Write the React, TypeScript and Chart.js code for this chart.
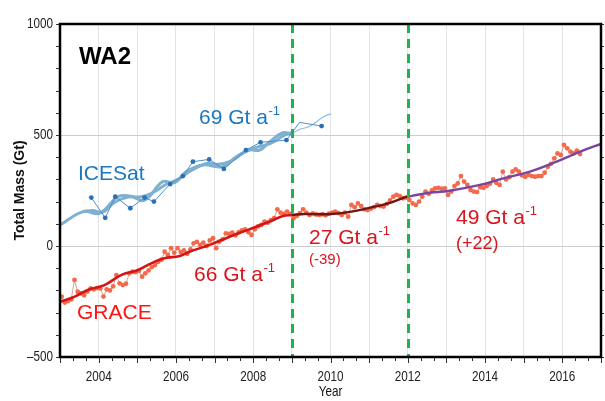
import React, { useEffect, useRef } from "react";
import { Chart, registerables } from "chart.js";

Chart.register(...registerables);

// GRACE monthly total mass (Gt), one array per year, Jan..Dec
const grace2003 = [-228, -255, -248, -240, -153, -206, -213, -222, -205, -191, -195, -190];
const grace2004 = [-191, -228, -195, -200, -182, -131, -168, -176, -170, -123, -116, -118];
const grace2005 = [-112, -138, -123, -110, -95, -86, -71, -62, -26, -40, -10, -30];
const grace2006 = [-10, -27, -20, -35, -15, 12, 19, 5, 15, 0, 25, 35];
const grace2007 = [-10, 20, 30, 57, 55, 60, 48, 62, 70, 75, 62, 50];
const grace2008 = [75, 88, 95, 110, 105, 117, 125, 165, 150, 145, 155, 145];
const grace2009 = [125, 135, 148, 165, 150, 140, 147, 142, 140, 143, 138, 146];
const grace2010 = [150, 155, 148, 140, 150, 132, 185, 175, 192, 180, 165, 162];
const grace2011 = [168, 175, 185, 180, 178, 190, 205, 222, 230, 225, 215, 218];
const grace2012 = [207, 192, 185, 200, 222, 245, 235, 250, 260, 262, 258, 260];
const grace2013 = [230, 245, 270, 282, 315, 290, 275, 252, 245, 243, 265, 262];
const grace2014 = [270, 280, 300, 285, 275, 335, 300, 310, 335, 345, 335, 318];
const grace2015 = [312, 320, 315, 312, 315, 315, 330, 357, 370, 395, 417, 410];
const grace2016 = [455, 440, 425, 417, 430, 414];
const graceYears = [grace2003, grace2004, grace2005, grace2006, grace2007, grace2008, grace2009,
  grace2010, grace2011, grace2012, grace2013, grace2014, grace2015, grace2016];
const graceFirstYear = 2003;

// GRACE smoothed trend, split into the three periods
const trendAYears = [2003.0, 2003.38, 2003.72, 2004.15, 2004.58, 2005.02, 2005.36, 2005.7, 2006.1, 2006.35, 2006.87, 2007.39, 2007.9, 2008.43, 2008.77, 2009.0];
const trendAMass = [-251, -228, -198, -176, -131, -108, -78, -55, -45, -26, 5, 42, 75, 110, 135, 140];
const trendBYears = [2009.0, 2009.33, 2009.7, 2010.02, 2010.54, 2011.06, 2011.49, 2011.92, 2012.0];
const trendBMass = [140, 144, 143, 144, 155, 174, 192, 219, 222];
const trendCYears = [2012.0, 2012.3, 2012.57, 2013.05, 2013.87, 2014.47, 2015.16, 2015.85, 2016.46, 2017.0];
const trendCMass = [222, 232, 240, 248, 275, 305, 335, 380, 425, 460];

// ICESat campaign estimates
const iceYears = [2003.81, 2004.17, 2004.43, 2004.82, 2005.19, 2005.43, 2005.85, 2006.18, 2006.44, 2006.86, 2007.24, 2007.81, 2008.19, 2008.86, 2009.2, 2009.77];
const iceMass = [218, 127, 222, 170, 218, 200, 279, 315, 380, 390, 347, 432, 467, 477, 557, 540];

// ICESat smoothed curves
const iceSmoothAYears = [2003.0, 2003.6, 2004.02, 2004.5, 2004.8, 2005.19, 2005.66, 2005.97, 2006.27, 2006.7, 2007.22, 2007.56, 2007.9, 2008.17, 2008.43, 2008.77, 2009.0];
const iceSmoothAMass = [95, 155, 147, 222, 225, 207, 290, 285, 335, 365, 357, 402, 432, 432, 470, 510, 505];
const iceSmoothBYears = [2003.6, 2003.85, 2004.1, 2004.4, 2004.75, 2005.1, 2005.4, 2005.75, 2006.05, 2006.4, 2006.8, 2007.1, 2007.45, 2007.8, 2008.1, 2008.45, 2008.8, 2009.0];
const iceSmoothBMass = [155, 160, 152, 195, 220, 222, 240, 278, 300, 340, 372, 368, 385, 425, 445, 462, 498, 512];
const iceTailYears = [2009.0, 2009.2, 2009.43, 2009.64, 2009.85, 2010.02];
const iceTailMass = [507, 525, 537, 560, 585, 595];

// Period boundaries
const breakYears = [2009, 2012];

const xMin = 2003;
const xMax = 2017;
const yMin = -500;
const yMax = 1000;
const yStep = 500;

const sans = "'Liberation Sans', Arial, sans-serif";

const pts = (xs: number[], ys: number[]) => xs.map((x, i) => ({ x, y: ys[i] }));

function graceSeries() {
  const out: { x: number; y: number }[] = [];
  graceYears.forEach((arr, yi) => {
    arr.forEach((v, m) => out.push({ x: graceFirstYear + yi + (m + 0.5) / 12, y: v }));
  });
  return out;
}

// condensed text: horizontally squeezed sans
function narrowText(ctx: CanvasRenderingContext2D, text: string, x: number, y: number, align: "left" | "center" | "right", size: number, squeeze = 0.78) {
  ctx.save();
  ctx.font = `${size}px ${sans}`;
  ctx.textBaseline = "middle";
  ctx.textAlign = align;
  ctx.translate(x, y);
  ctx.scale(squeeze, 1);
  ctx.fillText(text, 0, 0);
  ctx.restore();
}

function drawRate(ctx: CanvasRenderingContext2D, x: number, y: number, text: string, color: string, size: number) {
  ctx.save();
  ctx.fillStyle = color;
  ctx.textBaseline = "alphabetic";
  ctx.textAlign = "left";
  ctx.font = `${size}px ${sans}`;
  ctx.fillText(text, x, y);
  const w = ctx.measureText(text).width;
  ctx.font = `${Math.round(size * 0.6)}px ${sans}`;
  ctx.fillText("-1", x + w + 0.5, y - size * 0.42);
  ctx.restore();
}

const overlay = {
  id: "overlay",
  afterDatasetsDraw(chart: any) {
    const { ctx, chartArea, scales } = chart;
    const xs = scales.x;
    const ys = scales.y;
    const { left, right, top, bottom } = chartArea;

    // period boundaries
    ctx.save();
    ctx.strokeStyle = "#1fb24e";
    ctx.lineWidth = 3;
    ctx.setLineDash([9, 6]);
    breakYears.forEach((yr) => {
      const px = Math.round(xs.getPixelForValue(yr)) + 0.5;
      ctx.beginPath();
      ctx.moveTo(px, top);
      ctx.lineTo(px, bottom);
      ctx.stroke();
    });
    ctx.restore();

    // minor ticks
    ctx.save();
    ctx.strokeStyle = "#333";
    ctx.lineWidth = 1;
    for (let v = yMin; v <= yMax; v += 100) {
      const py = Math.round(ys.getPixelForValue(v)) + 0.5;
      ctx.beginPath();
      ctx.moveTo(left - 4, py);
      ctx.lineTo(left, py);
      ctx.moveTo(right, py);
      ctx.lineTo(right + 3, py);
      ctx.stroke();
    }
    for (let k = 0; k <= (xMax - xMin) * 3; k++) {
      const px = Math.round(xs.getPixelForValue(xMin + k / 3)) + 0.5;
      const len = k % 3 === 0 ? 6 : 4;
      ctx.beginPath();
      ctx.moveTo(px, bottom);
      ctx.lineTo(px, bottom + len);
      ctx.stroke();
    }
    ctx.restore();

    // frame
    ctx.save();
    ctx.strokeStyle = "#000";
    ctx.lineWidth = 2.5;
    ctx.strokeRect(left, top, right - left, bottom - top);
    ctx.restore();

    // tick labels
    ctx.save();
    ctx.fillStyle = "#222";
    xs.ticks.forEach((t: any) => {
      const v = t.value;
      if (v % 2 === 0 && v > xMin && v < xMax) {
        narrowText(ctx, String(v), xs.getPixelForValue(v), 377, "center", 15);
      }
    });
    for (let v = yMin; v <= yMax; v += yStep) {
      const label = v < 0 ? "\u2013" + Math.abs(v) : String(v);
      narrowText(ctx, label, left - 7, ys.getPixelForValue(v), "right", 15);
    }
    ctx.restore();

    // labels
    ctx.save();
    ctx.fillStyle = "#000";
    ctx.font = `bold 24px ${sans}`;
    ctx.textBaseline = "alphabetic";
    ctx.fillText("WA2", 79, 64);

    ctx.fillStyle = "#1a78c2";
    ctx.font = `21px ${sans}`;
    ctx.fillText("ICESat", 78, 180);
    ctx.fillStyle = "#ff1414";
    ctx.fillText("GRACE", 77, 319);
    ctx.restore();

    drawRate(ctx, 199, 124, "69 Gt a", "#1a78c2", 21);
    drawRate(ctx, 194, 281, "66 Gt a", "#d9141c", 21);
    drawRate(ctx, 309, 244, "27 Gt a", "#d9141c", 21);
    drawRate(ctx, 456, 224, "49 Gt a", "#d9141c", 21);

    ctx.save();
    ctx.fillStyle = "#d9141c";
    ctx.font = `15px ${sans}`;
    ctx.fillText("(-39)", 309, 264);
    ctx.font = `18px ${sans}`;
    ctx.fillText("(+22)", 456, 249);
    ctx.restore();

    // axis titles
    ctx.save();
    ctx.fillStyle = "#111";
    ctx.font = `bold 14px ${sans}`;
    ctx.textAlign = "center";
    ctx.textBaseline = "middle";
    ctx.translate(20, (top + bottom) / 2);
    ctx.rotate(-Math.PI / 2);
    ctx.fillText("Total Mass (Gt)", 0, 0);
    ctx.restore();

    ctx.save();
    ctx.fillStyle = "#111";
    narrowText(ctx, "Year", (left + right) / 2, 392, "center", 15);
    ctx.restore();
  },
};

export default function App() {
  const ref = useRef<HTMLCanvasElement | null>(null);

  useEffect(() => {
    if (!ref.current) return;
    const chart = new Chart(ref.current, {
      type: "line",
      data: {
        datasets: [
          {
            label: "ICESat",
            data: pts(iceYears, iceMass),
            borderColor: "#4d8fc8",
            borderWidth: 1,
            backgroundColor: "#2a70b8",
            pointBackgroundColor: "#2a70b8",
            pointBorderWidth: 0,
            pointRadius: iceYears.map((y) => (y === 2009.2 ? 0 : 2.4)),
            tension: 0,
            order: 1,
          },
          {
            label: "ICESat tail",
            data: pts(iceTailYears, iceTailMass),
            borderColor: "#8fbde0",
            borderWidth: 1.2,
            pointRadius: 0,
            tension: 0.4,
            order: 2,
          },
          {
            label: "ICESat smooth A",
            data: pts(iceSmoothAYears, iceSmoothAMass),
            borderColor: "#7eb0d0",
            borderWidth: 3,
            pointRadius: 0,
            tension: 0.4,
            order: 3,
          },
          {
            label: "ICESat smooth B",
            data: pts(iceSmoothBYears, iceSmoothBMass),
            borderColor: "#7eb0d0",
            borderWidth: 3,
            pointRadius: 0,
            tension: 0.4,
            order: 4,
          },
          {
            label: "GRACE trend 2003-2009",
            data: pts(trendAYears, trendAMass),
            borderColor: "#d51414",
            borderWidth: 2.6,
            pointRadius: 0,
            tension: 0.4,
            order: 5,
          },
          {
            label: "GRACE trend 2009-2012",
            data: pts(trendBYears, trendBMass),
            borderColor: "#6e1616",
            borderWidth: 2.4,
            pointRadius: 0,
            tension: 0.4,
            order: 6,
          },
          {
            label: "GRACE trend 2012-2017",
            data: pts(trendCYears, trendCMass),
            borderColor: "#7a44a0",
            borderWidth: 2.4,
            pointRadius: 0,
            tension: 0.4,
            order: 7,
          },
          {
            label: "GRACE",
            data: graceSeries(),
            borderColor: "rgba(190,130,110,0.9)",
            borderWidth: 0.8,
            pointBackgroundColor: "#f26a4c",
            pointBorderWidth: 0,
            pointRadius: 2.4,
            tension: 0,
            order: 8,
          },
        ],
      },
      options: {
        animation: false,
        responsive: false,
        devicePixelRatio: 1,
        layout: { padding: { top: 24, right: 3, left: 0, bottom: 0 } },
        plugins: { legend: { display: false }, tooltip: { enabled: false } },
        scales: {
          x: {
            type: "linear",
            min: xMin,
            max: xMax,
            afterBuildTicks: (scale: any) => {
              const t = [];
              for (let v = xMin; v <= xMax; v++) t.push({ value: v });
              scale.ticks = t;
            },
            afterFit: (scale: any) => {
              scale.height = 44;
            },
            ticks: { display: false, autoSkip: false, maxRotation: 0 },
            grid: { color: "#e4e4e4", drawTicks: false, lineWidth: 1 },
            border: { display: false },
          },
          y: {
            min: yMin,
            max: yMax,
            afterFit: (scale: any) => {
              scale.width = 60;
            },
            ticks: { display: false, stepSize: yStep },
            grid: { color: "#cdcdcd", drawTicks: false, lineWidth: 1 },
            border: { display: false },
          },
        },
      },
      plugins: [overlay],
    } as any);
    return () => chart.destroy();
  }, []);

  return (
    <div style={{ position: "fixed", left: 0, top: 0, width: 605, height: 401, background: "#fff" }}>
      <canvas ref={ref} width={605} height={401} style={{ display: "block" }} />
    </div>
  );
}
